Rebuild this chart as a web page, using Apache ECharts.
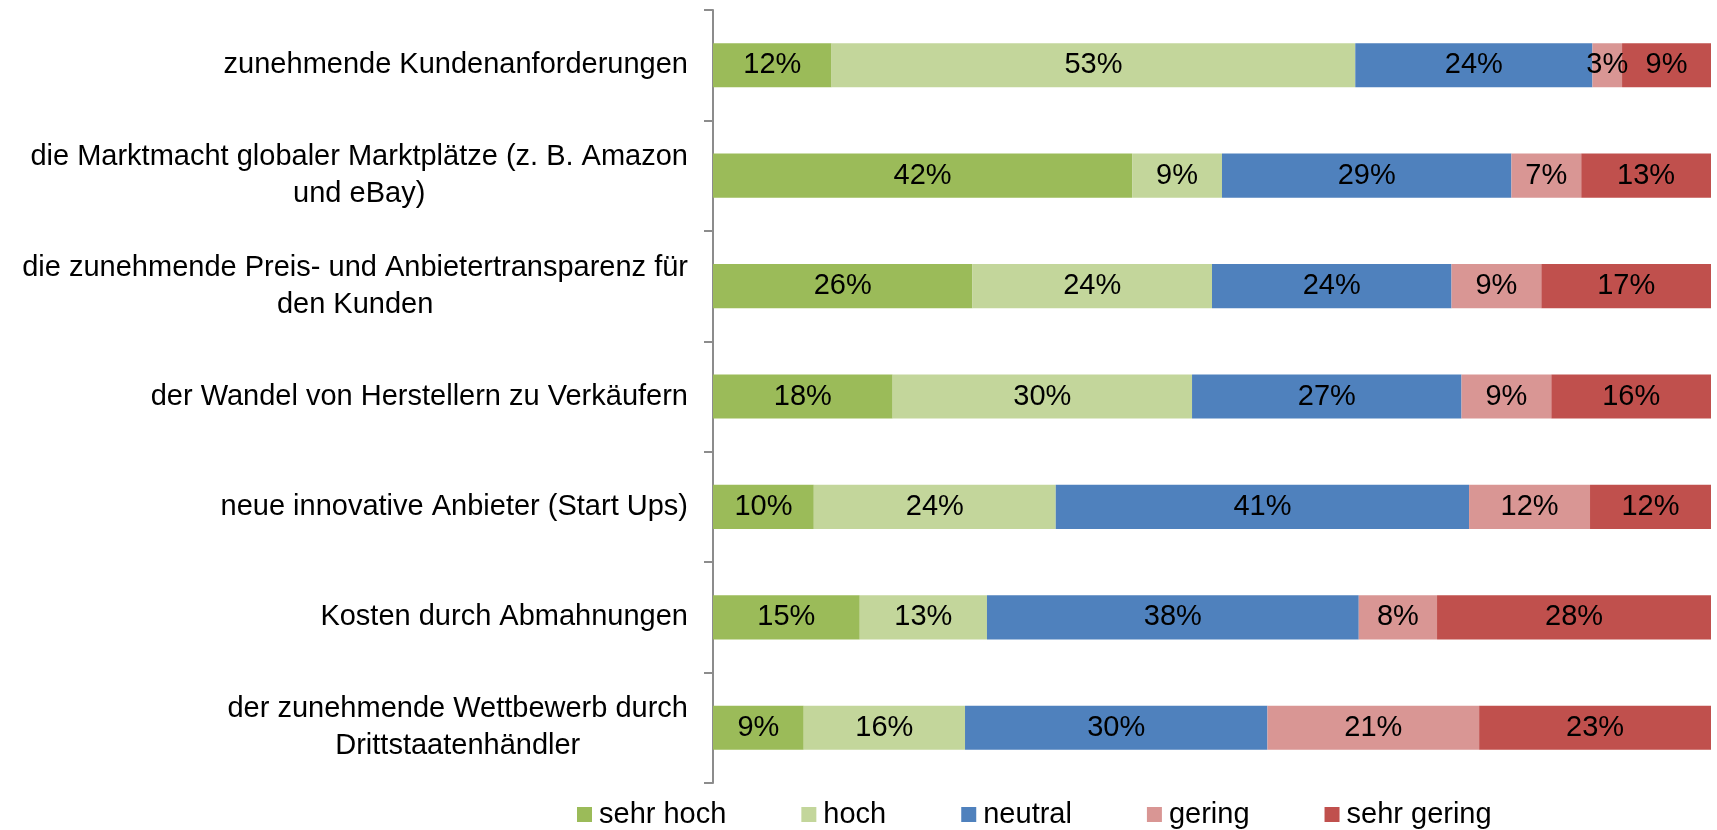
<!DOCTYPE html>
<html>
<head>
<meta charset="utf-8">
<script src="https://cdn.jsdelivr.net/npm/echarts@6/dist/echarts.min.js"></script>
<style>
  html, body { margin: 0; padding: 0; background: #fff; }
  #chart { width: 1717px; height: 830px; }
</style>
</head>
<body>
<div id="chart"></div>
<script>
var categories = [
    'zunehmende Kundenanforderungen',
    'die Marktmacht globaler Marktplätze (z. B. Amazon\nund eBay)',
    'die zunehmende Preis- und Anbietertransparenz für\nden Kunden',
    'der Wandel von Herstellern zu Verkäufern',
    'neue innovative Anbieter (Start Ups)',
    'Kosten durch Abmahnungen',
    'der zunehmende Wettbewerb durch\nDrittstaatenhändler'
];

var seriesNames = ['sehr hoch', 'hoch', 'neutral', 'gering', 'sehr gering'];
var colors = ['#9BBB59', '#C3D69B', '#4F81BD', '#D99694', '#C0504D'];

// percentages as printed in the bars
var sehrHoch   = [12, 42, 26, 18, 10, 15, 9];
var hoch       = [53, 9, 24, 30, 24, 13, 16];
var neutral    = [24, 29, 24, 27, 41, 38, 30];
var gering     = [3, 7, 9, 9, 12, 8, 21];
var sehrGering = [9, 13, 17, 16, 12, 28, 23];

var allValues = [sehrHoch, hoch, neutral, gering, sehrGering];

var fontName = '"Liberation Sans", Arial, sans-serif';

// 100% stacked: every row is scaled to its own total
var totals = categories.map(function (c, i) {
    var s = 0;
    for (var k = 0; k < allValues.length; k++) s += allValues[k][i];
    return s;
});

var series = seriesNames.map(function (name, k) {
    return {
        name: name,
        type: 'bar',
        stack: 'total',
        barWidth: '40%',
        itemStyle: { color: colors[k] },
        label: {
            show: true,
            position: 'inside',
            color: '#000',
            fontSize: 29,
            fontFamily: fontName,
            formatter: function (p) {
                return allValues[k][p.dataIndex] + '%';
            }
        },
        data: allValues[k].map(function (v, i) {
            return v / totals[i] * 100;
        })
    };
});

var myChart = echarts.init(document.getElementById('chart'));

myChart.setOption({
    animation: false,
    textStyle: { fontFamily: fontName },
    grid: {
        left: 713,
        right: 6,
        top: 10,
        bottom: 47
    },
    legend: {
        left: 577,
        top: 800,
        padding: 0,
        itemWidth: 15,
        itemHeight: 15,
        itemGap: 75,
        icon: 'rect',
        textStyle: {
            fontSize: 29,
            color: '#000',
            fontFamily: fontName,
            padding: [0, 0, 0, 2]
        },
        data: seriesNames
    },
    xAxis: {
        type: 'value',
        min: 0,
        max: 100,
        show: false
    },
    yAxis: {
        type: 'category',
        inverse: true,
        data: categories,
        axisLine: { lineStyle: { color: '#8c8c8c', width: 2 } },
        axisTick: { show: true, length: 9, lineStyle: { color: '#8c8c8c', width: 2 } },
        axisLabel: {
            margin: 25,
            align: 'right',
            lineHeight: 37,
            formatter: function (value) {
                return value.split('\n').map(function (l) {
                    return '{c|' + l + '}';
                }).join('\n');
            },
            rich: {
                c: {
                    align: 'center',
                    fontSize: 29,
                    lineHeight: 37,
                    color: '#000',
                    fontFamily: fontName
                }
            }
        }
    },
    series: series
});
</script>
</body>
</html>
